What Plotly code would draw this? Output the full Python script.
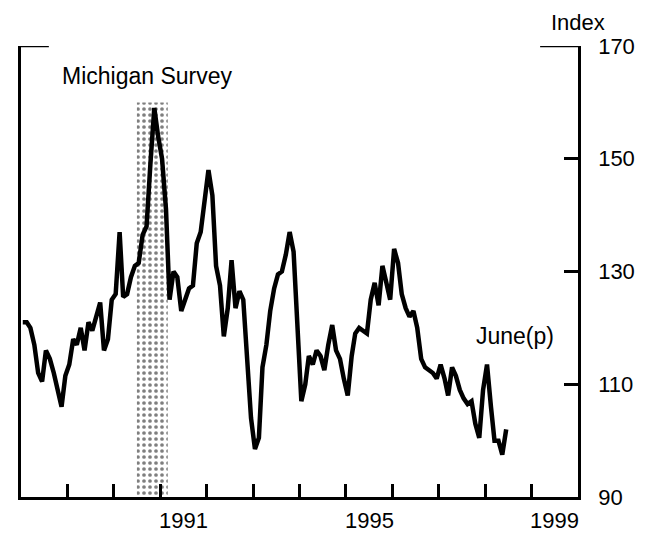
import pandas as pd
import plotly.graph_objects as go

# Monthly index values, Jan 1988 - Jun 1998
values = [
    121, 121, 120, 117, 112, 110.5, 116, 114.5, 112, 109, 106, 111.5,          # 1988
    113.5, 118, 117, 120, 116, 121, 119.5, 122, 124.5, 116, 118, 125,          # 1989
    126, 137, 125.5, 126, 129, 131, 131.5, 136.5, 138, 149, 159, 154,          # 1990
    150, 141, 125, 130, 129, 123, 125, 127, 127.5, 135, 137, 142,              # 1991
    148, 143.5, 131, 127.5, 118.5, 123.5, 132, 123.5, 126.5, 125, 113, 104,    # 1992
    98.5, 100.5, 113, 117, 123, 127, 129.5, 130, 133, 137, 133.5, 121,         # 1993
    107, 110, 115, 113.5, 116, 115, 112.5, 117, 120.5, 116, 114.5, 111,        # 1994
    108, 115, 119, 120, 119.5, 119, 125, 128, 124, 131, 128, 125,              # 1995
    134, 131.5, 126, 123.5, 122, 123, 120, 114.5, 113, 112.5, 112, 111,        # 1996
    113.5, 111, 108, 113, 111.5, 109, 107.5, 106.5, 107, 103, 100.5, 109,      # 1997
    113.5, 106, 100, 100, 97.5, 102,                                            # 1998
]
dates = pd.date_range("1988-01-01", periods=len(values), freq="MS") + pd.Timedelta(days=14)

recession_start = "1990-07-01"
recession_end = "1991-03-01"
shade_top = 160

x_tick_years = [f"{y}-01-01" for y in range(1989, 2000)]
x_label_years = ["1991", "1995", "1999"]
y_ticks = [90, 110, 130, 150, 170]

FONT = "Liberation Sans, Arial, Helvetica, sans-serif"
FS = 22

fig = go.Figure()

# Shaded recession period (dotted)
fig.add_trace(go.Scatter(
    x=[recession_start, recession_start, recession_end, recession_end],
    y=[90, shade_top, shade_top, 90],
    fill="toself",
    fillcolor="rgba(0,0,0,0)",
    fillpattern=dict(shape=".", fgcolor="black", bgcolor="white", size=6, solidity=0.3),
    line=dict(width=0),
    mode="lines",
    hoverinfo="skip",
    showlegend=False,
))

# Index line
fig.add_trace(go.Scatter(
    x=dates, y=values, mode="lines",
    line=dict(color="black", width=4.5),
    showlegend=False,
))

# page body has an 8px margin, so the plot area is placed 8px up/left in figure coords
fig.update_layout(
    width=652, height=533,
    margin=dict(l=10, r=82, t=38, b=44),
    paper_bgcolor="white", plot_bgcolor="white",
    font=dict(family=FONT, size=FS, color="black"),
    showlegend=False,
)

fig.update_xaxes(
    type="date",
    range=["1988-01-01", "2000-01-01"],
    tickvals=x_tick_years,
    ticks="inside", ticklen=13, tickwidth=2.5, tickcolor="black",
    showticklabels=False,
    showgrid=False, zeroline=False,
    showline=True, linecolor="black", linewidth=2.5,
)

fig.update_yaxes(
    side="right",
    range=[90, 170],
    tickvals=y_ticks,
    ticktext=[str(v) for v in y_ticks],
    ticks="inside", ticklen=14, tickwidth=2.5, tickcolor="black",
    ticklabelstandoff=13,
    showgrid=False, zeroline=False,
    showline=True, linecolor="black", linewidth=2.5, mirror=True,
    tickfont=dict(family=FONT, size=FS),
)

# Top corner segments
fig.add_shape(type="line", xref="paper", yref="y", x0=-0.004, x1=0.05, y0=170, y1=170,
              line=dict(color="black", width=2.5))
fig.add_shape(type="line", xref="paper", yref="y", x0=0.932, x1=1.0, y0=170, y1=170,
              line=dict(color="black", width=2.5))

# Year labels centred on the years
for yr in x_label_years:
    fig.add_annotation(x=f"{yr}-07-02", y=0, xref="x", yref="paper",
                       text=yr, showarrow=False, yanchor="top", yshift=-9,
                       font=dict(family=FONT, size=FS))

fig.add_annotation(x=1.0, y=1.0, xref="paper", yref="paper", text="Index",
                   showarrow=False, xanchor="center", yanchor="middle", yshift=24,
                   font=dict(family=FONT, size=FS))
fig.add_annotation(x="1990-09-24", y=164.7, xref="x", yref="y", text="Michigan Survey",
                   showarrow=False, xanchor="center", yanchor="middle",
                   font=dict(family=FONT, size=FS + 1))
fig.add_annotation(x="1998-08-25", y=118.6, xref="x", yref="y", text="June(p)",
                   showarrow=False, xanchor="center", yanchor="middle",
                   font=dict(family=FONT, size=FS + 1))

fig.write_html("out.html")
